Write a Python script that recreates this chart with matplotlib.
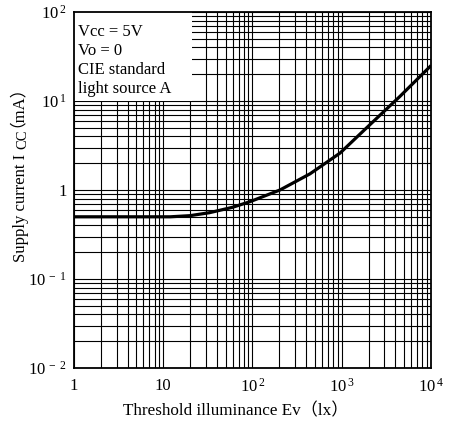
import numpy as np
import matplotlib
matplotlib.use("Agg")
import matplotlib.pyplot as plt
from matplotlib.patches import Rectangle
from matplotlib.ticker import LogLocator, NullFormatter

plt.rcParams['font.family'] = ['Liberation Serif', 'Noto Sans CJK JP']
plt.rcParams['mathtext.fontset'] = 'custom'
plt.rcParams['mathtext.rm'] = 'Liberation Serif'

# illuminance (lx) vs supply current (mA)
ev = [1, 12, 20, 33, 60, 94, 203, 441, 957, 1900, 4500, 10000]
icc = [0.5, 0.5, 0.515, 0.556, 0.64, 0.74, 1.0, 1.52, 2.6, 5.0, 11.3, 25]

x_ticks = [1, 10, 100, 1000, 10000]
x_labels = ['1', '10', r'$\mathregular{10^{\,2}}$', r'$\mathregular{10^{\,3}}$', r'$\mathregular{10^{\,4}}$']
y_ticks = [0.01, 0.1, 1, 10, 100]
y_labels = [r'$\mathregular{10^{\,-\,2}}$', r'$\mathregular{10^{\,-\,1}}$', '1',
            r'$\mathregular{10^{\,1}}$', r'$\mathregular{10^{\,2}}$']

notes = "Vcc = 5V\nVo = 0\nCIE standard\nlight source A"

W, H = 452, 425
fig = plt.figure(figsize=(W / 100, H / 100), dpi=100)
ax = fig.add_axes([74/W, 1 - 368/H, 357/W, 356/H])

ax.set_xscale('log')
ax.set_yscale('log')
ax.set_xlim(1, 1e4)
ax.set_ylim(1e-2, 1e2)

ax.xaxis.set_minor_locator(LogLocator(base=10, subs=np.arange(2, 10)))
ax.yaxis.set_minor_locator(LogLocator(base=10, subs=np.arange(2, 10)))
ax.xaxis.set_minor_formatter(NullFormatter())
ax.yaxis.set_minor_formatter(NullFormatter())
ax.grid(True, which='both', color='black', lw=0.8)
ax.set_axisbelow(True)

ax.set_xticks(x_ticks)
ax.set_xticklabels(x_labels)
ax.set_yticks(y_ticks)
ax.set_yticklabels(y_labels)
ax.tick_params(which='both', length=0, labelsize=12)
ax.tick_params(axis='x', pad=7)
ax.tick_params(axis='y', pad=5)

for s in ax.spines.values():
    s.set_linewidth(1.3)

# white note box in the upper left
ax.add_patch(Rectangle((1, 10), 20, 90, facecolor='white', edgecolor='none', zorder=2))
ax.text(0.012, 0.965, notes, transform=ax.transAxes, ha='left', va='top',
        fontsize=12, linespacing=1.25, zorder=3)

ax.plot(ev, icc, color='black', lw=2.3, zorder=4, solid_capstyle='butt')

# x label
fig.text(236/W, 1 - 411/H, "Threshold illuminance Ev（lx）", fontsize=12.3,
         ha='center', va='center')

# y label built from pieces sharing one baseline (x = 25 px)
r = fig.canvas.get_renderer()
base_x = 25 / W
t1 = fig.text(base_x, 1 - 262/H, "Supply current I", fontsize=12, rotation=90,
              rotation_mode='anchor', ha='left', va='baseline')
y1 = t1.get_window_extent(r).y1
t2 = fig.text(base_x + 1/W, (y1 + 5) / H, "CC", fontsize=10.5, rotation=90,
              rotation_mode='anchor', ha='left', va='baseline')
y2 = t2.get_window_extent(r).y1
# the CJK fallback glyphs shift the baseline, so pull this piece back by hand
fig.text(base_x - 12/W, (y2 + 2) / H, "（mA）", fontsize=12, rotation=90,
         rotation_mode='anchor', ha='left', va='baseline')

fig.savefig("out.png", dpi=100)
